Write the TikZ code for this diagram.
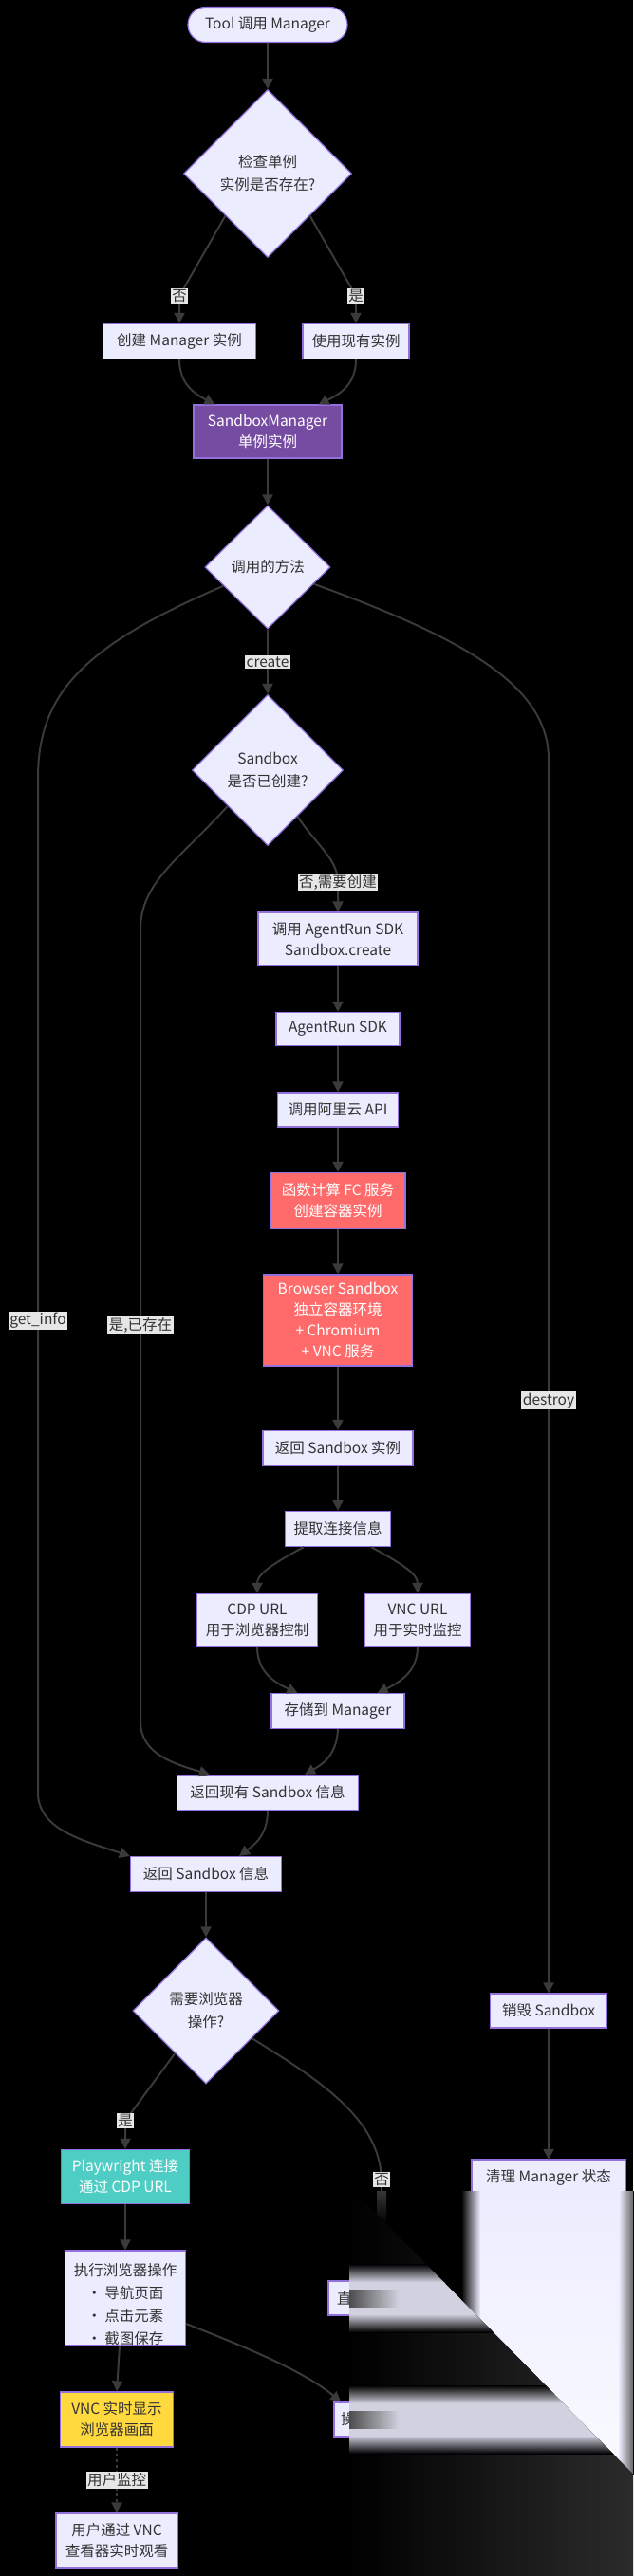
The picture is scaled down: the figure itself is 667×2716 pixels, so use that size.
\documentclass[tikz,border=0pt]{standalone}
\usepackage{fontspec}
\setmainfont{Noto Sans CJK SC}
\usetikzlibrary{positioning,shapes.geometric,arrows.meta}
\definecolor{nodefill}{HTML}{ECECFF}
\definecolor{nodeline}{HTML}{9370DB}
\definecolor{edgeline}{HTML}{3A3A3A}
\definecolor{txt}{HTML}{333333}
\definecolor{lblfill}{HTML}{E6E6E6}
\definecolor{mgrfill}{HTML}{764BA2}
\definecolor{fcfill}{HTML}{FF6B6B}
\definecolor{pwfill}{HTML}{4ECDC4}
\definecolor{vncfill}{HTML}{FFD93D}

\begin{document}
\begin{tikzpicture}[x=1pt,y=-1pt,on grid,
    box/.style={rectangle,draw=nodeline,fill=nodefill,line width=1.2pt,text=txt,inner sep=2pt,
      align=center,minimum height=37pt,font=\fontsize{15.5}{22}\selectfont},
    startbox/.style={box,rounded corners=18.5pt},
    decision/.style={diamond,aspect=1,draw=nodeline,fill=nodefill,line width=1.2pt,text=txt,
      inner sep=0pt,align=center,font=\fontsize{15.5}{24}\selectfont},
    flow/.style={draw=edgeline,line width=2pt,-{Triangle[length=11pt,width=11pt]}},
    lbl/.style={sharp corners,fill=lblfill,text=txt,inner sep=1.5pt,font=\fontsize{15.5}{18}\selectfont}]

    \useasboundingbox (0,0) rectangle (667,2716);
    \fill[black] (0,0) rectangle (667,2716);

    % \node[style, size] (number) [placement] {text};
    \node[startbox,minimum width=168pt] (0) at (282,26) {Tool 调用 Manager};
    \node[decision,minimum width=177pt,minimum height=177pt] (1) [below=157pt of 0] {检查单例\\实例是否存在?};
    \node[box,minimum width=161pt] (2) [below left=177pt and 93pt of 1] {创建 Manager 实例};
    \node[box,minimum width=112pt] (3) [below right=177pt and 93pt of 1] {使用现有实例};
    \node[box,minimum width=156pt,minimum height=56pt,fill=mgrfill,text=white] (4) [below=272pt of 1] {SandboxManager\\单例实例};
    \node[decision,minimum width=132pt,minimum height=130pt] (5) [below=143pt of 4] {调用的方法};
    \node[decision,minimum width=159pt,minimum height=159pt] (6) [below=214pt of 5] {Sandbox\\是否已创建?};
    \node[box,minimum width=168pt,minimum height=56pt] (7) [below right=178pt and 74pt of 6] {调用 AgentRun SDK\\Sandbox.create};
    \node[box,minimum width=130pt,minimum height=35pt] (8) [below=95pt of 7] {AgentRun SDK};
    \node[box,minimum width=127pt,minimum height=36pt] (9) [below=85pt of 8] {调用阿里云 API};
    \node[box,minimum width=142pt,minimum height=59pt,fill=fcfill,text=white] (10) [below=96pt of 9] {函数计算 FC 服务\\创建容器实例};
    \node[box,minimum width=157pt,minimum height=96pt,fill=fcfill,text=white] (11) [below=126pt of 10] {Browser Sandbox\\独立容器环境\\+ Chromium\\+ VNC 服务};
    \node[box,minimum width=158pt] (12) [below=135pt of 11] {返回 Sandbox 实例};
    \node[box,minimum width=111pt] (13) [below=85pt of 12] {提取连接信息};
    \node[box,minimum width=127pt,minimum height=55pt] (14) [below left=96pt and 85pt of 13] {CDP URL\\用于浏览器控制};
    \node[box,minimum width=111pt,minimum height=55pt] (15) [below right=96pt and 84pt of 13] {VNC URL\\用于实时监控};
    \node[box,minimum width=140pt] (16) [below=192pt of 13] {存储到 Manager};
    \node[box,minimum width=191pt] (17) [below left=86pt and 74pt of 16] {返回现有 Sandbox 信息};
    \node[box,minimum width=159pt] (18) [below left=86pt and 65pt of 17] {返回 Sandbox 信息};
    \node[decision,minimum width=154pt,minimum height=154pt] (19) [below=144pt of 18] {需要浏览器\\操作?};
    \node[box,minimum width=123pt,minimum height=36pt] (20) [right=361pt of 19] {销毁 Sandbox};
    \node[box,minimum width=135pt,minimum height=57pt,fill=pwfill,text=white] (21) [below left=175pt and 85pt of 19] {Playwright 连接\\通过 CDP URL};
    \node[box,minimum width=161pt,draw=none] (22) [below=176pt of 20] {清理 Manager 状态};
    \node[box,minimum width=127pt,minimum height=100pt,font=\fontsize{15.5}{24}\selectfont] (23) [below=128pt of 21]
        {\raisebox{-8pt}[\height][\depth]{\begin{tabular}{@{}c@{}}执行浏览器操作\\• 导航页面\\• 点击元素\\• 截图保存\end{tabular}}};
    \node[box,minimum width=112pt,minimum height=36pt] (24) [right=270pt of 23] {\makebox[94pt][l]{直}};
    \node[box,minimum width=119pt,minimum height=58pt,fill=vncfill] (25) [below left=128pt and 9pt of 23] {VNC 实时显示\\浏览器画面};
    \node[box,minimum width=100pt,minimum height=36pt] (26) [below=128pt of 24] {\makebox[86pt][l]{操}};
    \node[box,minimum width=128pt,minimum height=58pt] (27) [below=128pt of 25] {用户通过 VNC\\查看器实时观看};
    \draw[nodeline,line width=1.2pt] (22.south west) |- (22.north east) -- (22.south east);

    % (from) -- node {label} (to)
    \draw[flow] (0) -- (1);
    \draw[flow,rounded corners=12pt] (1.south west) -- (189,312) node[lbl]{否} -- (2);
    \draw[flow,rounded corners=12pt] (1.south east) -- (375,312) node[lbl]{是} -- (3);
    \draw[flow] (2.south) .. controls (189,405) and (205,415) .. ([xshift=23pt]4.north west);
    \draw[flow] (3.south) .. controls (375,405) and (359,415) .. ([xshift=-25pt]4.north east);
    \draw[flow] (4) -- (5);
    \draw[flow] (5) -- node[lbl]{create} (6);
    \draw[flow] (5.-157) .. controls (90,680) and (40,730) .. (40,820)
        -- node[lbl,pos=0.535]{get\_info} (40,1890) .. controls (40,1928) and (85,1940) .. (18.north west);
    \draw[flow] (5.-20) .. controls (480,670) and (578,720) .. (578,800)
        -- node[lbl,pos=0.52]{destroy} (20);
    \draw[flow] (6.-138) .. controls (190,905) and (148,930) .. (148,980)
        -- node[lbl,pos=0.5]{是,已存在} (148,1815) .. controls (148,1850) and (185,1860) .. ([xshift=35pt]17.north west);
    \draw[flow] (6.-57) .. controls (332,890) and (356,905) .. (356,930) node[lbl]{否,需要创建} -- (7);
    \foreach \a/\b in {7/8,8/9,9/10,10/11,11/12,12/13}
        \draw[flow] (\a) -- (\b);
    \draw[flow] ([xshift=-36pt]13.south) .. controls (285,1650) and (271,1660) .. (14.north);
    \draw[flow] ([xshift=35pt]13.south) .. controls (426,1650) and (440,1660) .. (15.north);
    \draw[flow] (14.south) .. controls (271,1760) and (285,1772) .. ([xshift=28pt]16.north west);
    \draw[flow] (15.south) .. controls (440,1760) and (425,1772) .. ([xshift=-29pt]16.north east);
    \draw[flow] (16.south) .. controls (355,1850) and (340,1860) .. ([xshift=-57pt]17.north east);
    \draw[flow] (17.south) .. controls (282,1935) and (268,1945) .. ([xshift=-45pt]18.north east);
    \draw[flow] (18) -- (19);
    \draw[flow,rounded corners=12pt] (19.-126) -- (132,2236) node[lbl]{是} -- (21);
    \draw[flow] (19.-31) .. controls (340,2195) and (400,2235) .. (402,2298) node[lbl]{否} -- (24);
    \draw[flow] (20) -- (22);
    \draw[flow] (21) -- (23);
    \draw[flow] ([xshift=-6pt]23.south) -- (25.north);
    \draw[flow] ([yshift=-27pt]23.east) .. controls (260,2475) and (320,2500) .. ([xshift=8pt]26.north west);
    \draw[flow,dash pattern=on 3pt off 3pt] (25) -- node[lbl]{用户监控} (27);

    % smeared lower right corner
    \begin{scope}
        \clip (373,2310) -- (700,2642) -- (700,2310) -- cycle;
        \fill[black] (360,2300) rectangle (680,2716);
        \shade[left color=black,right color=nodefill] (486,2305) rectangle (506,2716);
        \shade[top color=nodefill,bottom color=white] (506,2305) rectangle (652,2716);
        \shade[left color=nodefill,right color=black!60] (652,2305) rectangle (667,2716);
        \shade[top color=edgeline,bottom color=black] (397,2308) rectangle (407,2345);
    \end{scope}
    \begin{scope}
        \clip (368,2310) -- (373,2310) -- (700,2642) -- (700,2716) -- (368,2716) -- cycle;
        \shade[left color=black,right color=black!83!white] (368,2310) rectangle (667,2716);
        \foreach \y in {2423,2551} {
            \shade[top color=black,bottom color=nodefill!75!gray] (368,\y-36) rectangle (700,\y-17);
            \fill[nodefill!75!gray] (368,\y-17) rectangle (700,\y+17);
            \shade[top color=nodefill!75!gray,bottom color=black] (368,\y+17) rectangle (700,\y+36);
            \shade[left color=gray!60!black,right color=nodefill!75!gray] (368,\y-9) rectangle (420,\y+9);
        }
    \end{scope}
\end{tikzpicture}
\end{document}
